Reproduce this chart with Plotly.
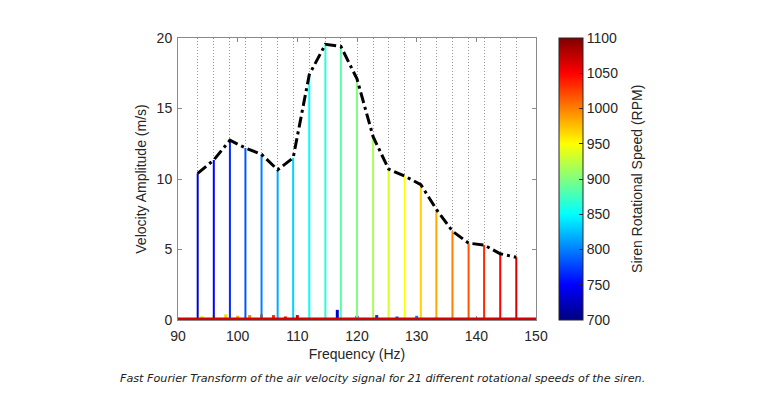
import plotly.graph_objects as go

# ---------------- data ----------------
rpm = [700, 720, 740, 760, 780, 800, 820, 840, 860, 880, 900,
       920, 940, 960, 980, 1000, 1020, 1040, 1060, 1080, 1100]
freqs = [93.3, 96.0, 98.7, 101.3, 104.0, 106.7, 109.3, 112.0, 114.7, 117.3, 120.0,
         122.7, 125.3, 128.0, 130.7, 133.3, 136.0, 138.7, 141.3, 144.0, 146.7]
peaks = [10.4, 11.35, 12.75, 12.2, 11.75, 10.65, 11.5, 17.4, 19.55, 19.4, 17.1,
         13.0, 10.7, 10.2, 9.6, 7.85, 6.3, 5.45, 5.32, 4.7, 4.45]
# secondary small peaks (index of the spectrum they belong to)
spike_idx = [0, 1, 2, 3, 4, 5, 6, 7, 8,
             10, 11, 12, 13, 14, 15, 16, 17, 18, 19, 20]
spike_freqs = [116.7, 120.0, 123.3, 126.7, 130.0, 133.3, 136.7, 140.0, 143.3,
               90.0, 92.0, 94.0, 96.0, 98.0, 100.0, 102.0, 104.0, 106.0, 108.0, 110.0]
spike_heights = [0.72, 0.3, 0.35, 0.25, 0.3, 0.2, 0.15, 0.15, 0.15,
                 0.2, 0.15, 0.3, 0.35, 0.4, 0.3, 0.35, 0.4, 0.35, 0.25, 0.35]
x_ticks = [90, 100, 110, 120, 130, 140, 150]
y_ticks = [0, 5, 10, 15, 20]
cbar_ticks = [700, 750, 800, 850, 900, 950, 1000, 1050, 1100]

# ---------------- styles ----------------
line_colors = ['rgb(0,0,212)', 'rgb(0,0,255)', 'rgb(0,42,255)', 'rgb(0,85,255)',
               'rgb(0,128,255)', 'rgb(0,170,255)', 'rgb(0,212,255)', 'rgb(0,255,255)',
               'rgb(42,255,212)', 'rgb(85,255,170)', 'rgb(128,255,128)', 'rgb(170,255,85)',
               'rgb(212,255,42)', 'rgb(255,255,0)', 'rgb(255,212,0)', 'rgb(255,170,0)',
               'rgb(255,128,0)', 'rgb(255,85,0)', 'rgb(255,42,0)', 'rgb(255,0,0)',
               'rgb(212,0,0)']
jet = [[0.0, 'rgb(0,0,128)'], [0.125, 'rgb(0,0,255)'], [0.375, 'rgb(0,255,255)'],
       [0.625, 'rgb(255,255,0)'], [0.875, 'rgb(255,0,0)'], [1.0, 'rgb(128,0,0)']]
FONT = 'Liberation Sans, Arial, sans-serif'
TXT = '#262626'
AXC = '#8a8a8a'

fig = go.Figure()

# grid helper trace on overlay axis
fig.add_trace(go.Scatter(x=[freqs[0]], y=[-10], xaxis='x2', mode='markers',
                         marker=dict(size=1, opacity=0), hoverinfo='skip', showlegend=False))

# secondary spikes
for i, f, h in zip(spike_idx, spike_freqs, spike_heights):
    fig.add_trace(go.Scatter(x=[f, f], y=[0, h], mode='lines',
                             line=dict(color=line_colors[i], width=3),
                             hoverinfo='skip', showlegend=False))

# main peaks (stems)
for i, (f, p) in enumerate(zip(freqs, peaks)):
    fig.add_trace(go.Scatter(x=[f, f], y=[0, p], mode='lines',
                             line=dict(color=line_colors[i], width=2),
                             name=f'{rpm[i]} RPM', showlegend=False))

# baseline of last spectrum
fig.add_trace(go.Scatter(x=[x_ticks[0], x_ticks[-1]], y=[0, 0], mode='lines',
                         line=dict(color=line_colors[-1], width=5),
                         hoverinfo='skip', showlegend=False))

# envelope
fig.add_trace(go.Scatter(x=freqs, y=peaks, mode='lines',
                         line=dict(color='black', width=3, dash='11px,4px,3px,4px'),
                         showlegend=False))

# colorbar carrier
fig.add_trace(go.Scatter(x=[120, 120], y=[-10, -10], mode='markers',
                         marker=dict(color=[rpm[0], rpm[-1]], colorscale=jet,
                                     cmin=700, cmax=1100, size=1, showscale=True,
                                     colorbar=dict(
                                         x=1.0642, xanchor='left', xpad=0,
                                         y=0.5, yanchor='middle', ypad=0,
                                         len=1, lenmode='fraction', thickness=24,
                                         outlinewidth=1, outlinecolor=TXT,
                                         tickvals=cbar_ticks, ticks='inside',
                                         ticklen=4, tickcolor=TXT,
                                         tickfont=dict(family=FONT, size=14, color=TXT))),
                         hoverinfo='skip', showlegend=False))

fig.update_layout(
    width=760, height=392,
    margin=dict(l=170, r=232, t=30, b=80),
    paper_bgcolor='white', plot_bgcolor='white',
    font=dict(family=FONT, size=14, color=TXT),
    xaxis=dict(range=[90, 150], tickvals=x_ticks, showgrid=False, zeroline=False,
               showline=True, linecolor=AXC, linewidth=1, mirror='ticks',
               ticks='inside', ticklen=4, tickcolor=AXC, layer='below traces',
               ticklabelstandoff=3,
               tickfont=dict(family=FONT, size=14, color=TXT),
               title=dict(text='Frequency (Hz)', standoff=6,
                          font=dict(family=FONT, size=14, color=TXT))),
    xaxis2=dict(range=[90, 150], overlaying='x', tickvals=freqs, showticklabels=False,
                showgrid=True, griddash='1px,2px', gridcolor='#9a9a9a', gridwidth=1,
                ticks='', showline=False, zeroline=False),
    yaxis=dict(range=[0, 20], tickvals=y_ticks, showgrid=False, zeroline=False,
               showline=True, linecolor=AXC, linewidth=1, mirror='ticks',
               ticks='inside', ticklen=4, tickcolor=AXC, layer='below traces',
               ticklabelstandoff=2,
               tickfont=dict(family=FONT, size=14, color=TXT),
               title=dict(text='Velocity Amplitude (m/s)', standoff=6,
                          font=dict(family=FONT, size=14, color=TXT))),
    showlegend=False,
    annotations=[
        dict(text='Siren Rotational Speed (RPM)', textangle=-90,
             xref='paper', yref='paper', x=1.282, y=0.5,
             xanchor='center', yanchor='middle', showarrow=False,
             font=dict(family=FONT, size=14, color=TXT)),
        dict(text='<i>Fast Fourier Transform of the air velocity signal for 21 different rotational speeds of the siren.</i>',
             xref='paper', yref='paper', x=0.5726, y=-0.2057,
             xanchor='center', yanchor='middle', showarrow=False,
             font=dict(family='DejaVu Sans, Verdana, sans-serif', size=11.2, color='#222'))],
)

fig.write_html('out.html')
